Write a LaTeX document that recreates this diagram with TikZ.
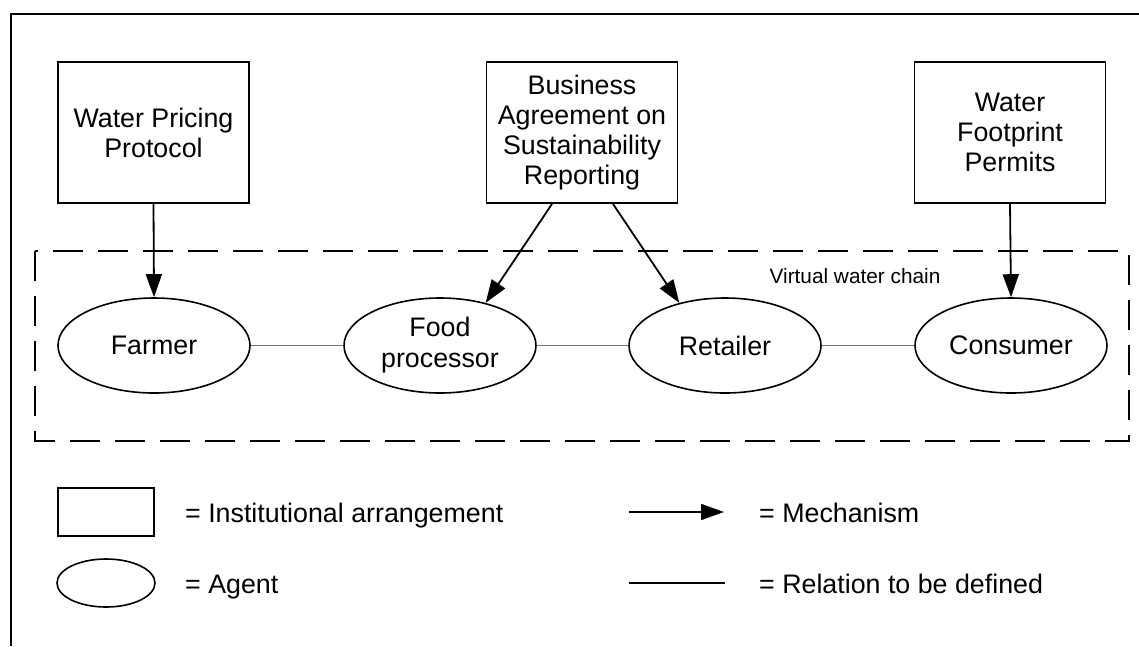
\documentclass[tikz,border=0pt]{standalone}
\usepackage{fontspec}
\setmainfont{Liberation Sans}
\usetikzlibrary{shapes.geometric,arrows.meta}
\begin{document}
\begin{tikzpicture}[x=1pt,y=-1pt,
  inst/.style={draw,line width=1.9pt,rectangle,inner sep=0pt,minimum width=191pt,minimum height=141pt,align=center,font=\fontsize{26.8}{30}\selectfont},
  agent/.style={draw,line width=1.6pt,ellipse,inner sep=0pt,minimum width=192pt,minimum height=95pt,align=center,font=\fontsize{26.8}{31}\selectfont},
  mech/.style={line width=1.8pt,-{Triangle[length=23pt,width=16pt]}},
  rel/.style={line width=1.3pt,black!55},
  legtext/.style={anchor=base west,inner sep=0pt,font=\fontsize{26.8}{30}\selectfont},
  chainbox/.style={line width=1.9pt,dash pattern=on 30pt off 15pt}]
\useasboundingbox (0,0) rectangle (1139,646);
% outer frame (partial)
\draw[line width=1.9pt] (1139,14) -- (11,14) -- (11,646);
% dashed virtual water chain box
\draw[chainbox] (35,251) rectangle (1129,441);
\node[inner sep=0pt,font=\fontsize{20.8}{24}\selectfont] (vwc) at (855,276) {Virtual water chain};
% institutional arrangements
\node[inst] (wpp) at (153.5,132.5) {Water Pricing\\Protocol};
\node[inst] (basr) at (582,132.5) {Business\\Agreement on\\Sustainability\\Reporting};
\node[inst] (wfp) at (1010,132.5) {Water\\Footprint\\Permits};
% agents
\node[agent] (farmer) at (154,345.5) {Farmer};
\node[agent] (fp) at (440,345.5) {Food\\processor};
\node[agent] (ret) at (725,345.5) {Retailer};
\node[agent] (con) at (1011,345.5) {Consumer};
% relations
\draw[rel] (farmer) -- (fp);
\draw[rel] (fp) -- (ret);
\draw[rel] (ret) -- (con);
% mechanisms
\draw[mech] (wpp.south) -- (farmer.north);
\draw[mech] ([xshift=-30pt]basr.south) -- (fp.43);
\draw[mech] ([xshift=31pt]basr.south) -- (ret.137);
\draw[mech] (wfp.south) -- (con.north);
% legend
\node[draw,line width=1.9pt,rectangle,inner sep=0pt,minimum width=96pt,minimum height=48pt] (legbox) at (106,512) {};
\node[draw,line width=1.6pt,ellipse,inner sep=0pt,minimum width=98pt,minimum height=48pt] (legell) at (106,583) {};
\node[legtext] (legt1) at (185,522) {= Institutional arrangement};
\node[legtext] (legt2) at (185,593) {= Agent};
\coordinate (la1) at (629,512);
\coordinate (la2) at (724,512);
\coordinate (lr1) at (629,583);
\coordinate (lr2) at (725,583);
\draw[mech] (la1) -- (la2);
\draw[line width=1.5pt] (lr1) -- (lr2);
\node[legtext] (legt3) at (759,522) {= Mechanism};
\node[legtext] (legt4) at (759,593) {= Relation to be defined};
\end{tikzpicture}
\end{document}
